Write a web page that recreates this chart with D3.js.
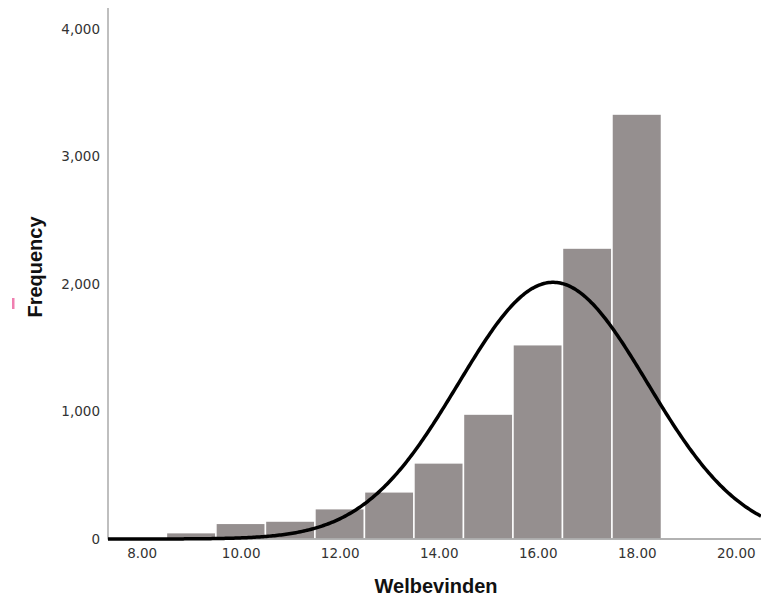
<!DOCTYPE html>
<html>
<head>
<meta charset="utf-8">
<script src="https://cdn.jsdelivr.net/npm/d3@7"></script>
<style>
  body { margin: 0; background: #fff; }
  svg { display: block; }
  .tick text { font-family: "DejaVu Sans", sans-serif; font-size: 13.5px; fill: #333; }
  .title { font-family: "Liberation Sans", Arial, sans-serif; font-weight: bold; font-size: 20px; fill: #111; }
</style>
</head>
<body>
<svg id="chart" width="761" height="599"></svg>
<script>
(function() {
  // histogram bins (centre of a 1-wide bin) and counts
  var binCentres = [9, 10, 11, 12, 13, 14, 15, 16, 17, 18];
  var counts = [50, 123, 141, 238, 370, 597, 980, 1524, 2282, 3333];
  var binWidth = 1;

  // fitted normal curve
  var curveMean = 16.31;
  var curveSd = 1.91;

  var xTicks = [8, 10, 12, 14, 16, 18, 20];
  var yTicks = [0, 1000, 2000, 3000, 4000];

  var svg = d3.select("svg#chart");

  var x = d3.scaleLinear().domain([7.32, 20.51]).range([108, 761]);
  var y = d3.scaleLinear().domain([0, 4000]).range([539, 29]);

  var total = d3.sum(counts);

  var bins = binCentres.map(function(c, i) {
    return { x0: c - binWidth / 2, x1: c + binWidth / 2, n: counts[i] };
  });

  // bars
  svg.selectAll("rect.bar").data(bins).enter().append("rect")
    .classed("bar", true)
    .attr("x", function(d) { return x(d.x0); })
    .attr("width", function(d) { return x(d.x1) - x(d.x0); })
    .attr("y", function(d) { return y(d.n); })
    .attr("height", function(d) { return y(0) - y(d.n); })
    .style("fill", "#958f8f")
    .style("stroke", "#fff")
    .style("stroke-width", 1.5);

  // axes
  var yAxis = d3.axisLeft(y).tickValues(yTicks).tickSize(0).tickPadding(8)
    .tickFormat(d3.format(",d"));
  var gy = svg.append("g").attr("transform", "translate(108,0)").call(yAxis);
  gy.select(".domain").remove();

  var xAxis = d3.axisBottom(x).tickValues(xTicks).tickSize(0).tickPadding(9)
    .tickFormat(d3.format(".2f"));
  var gx = svg.append("g").attr("transform", "translate(0,539)").call(xAxis);
  gx.select(".domain").remove();

  svg.append("line")
    .attr("x1", 108).attr("x2", 108).attr("y1", 8).attr("y2", 539.5)
    .style("stroke", "#aaa").style("stroke-width", 1.5);
  svg.append("line")
    .attr("x1", 108).attr("x2", 761).attr("y1", y(0)).attr("y2", y(0))
    .style("stroke", "#999").style("stroke-width", 1.5);

  // normal curve
  var normal = function(v) {
    var z = (v - curveMean) / curveSd;
    return total * binWidth / (curveSd * Math.sqrt(2 * Math.PI)) * Math.exp(-0.5 * z * z);
  };
  var pts = d3.range(0, 401).map(function(i) {
    var v = x.domain()[0] + (x.domain()[1] - x.domain()[0]) * i / 400;
    return [v, normal(v)];
  });
  var line = d3.line()
    .x(function(p) { return x(p[0]); })
    .y(function(p) { return y(p[1]); });
  svg.append("path").datum(pts).attr("d", line)
    .style("fill", "none").style("stroke", "#000").style("stroke-width", 3.5);

  // titles
  svg.append("text").classed("title", true)
    .attr("transform", "translate(42,267) rotate(-90)")
    .attr("text-anchor", "middle")
    .text("Frequency");
  svg.append("text").classed("title", true)
    .attr("x", 436).attr("y", 593)
    .attr("text-anchor", "middle")
    .text("Welbevinden");

  // small pink mark left of the axis title
  svg.append("rect")
    .attr("x", 12).attr("y", 298).attr("width", 2.5).attr("height", 11)
    .style("fill", "#f07fb0");
}).call(this);
</script>
</body>
</html>
